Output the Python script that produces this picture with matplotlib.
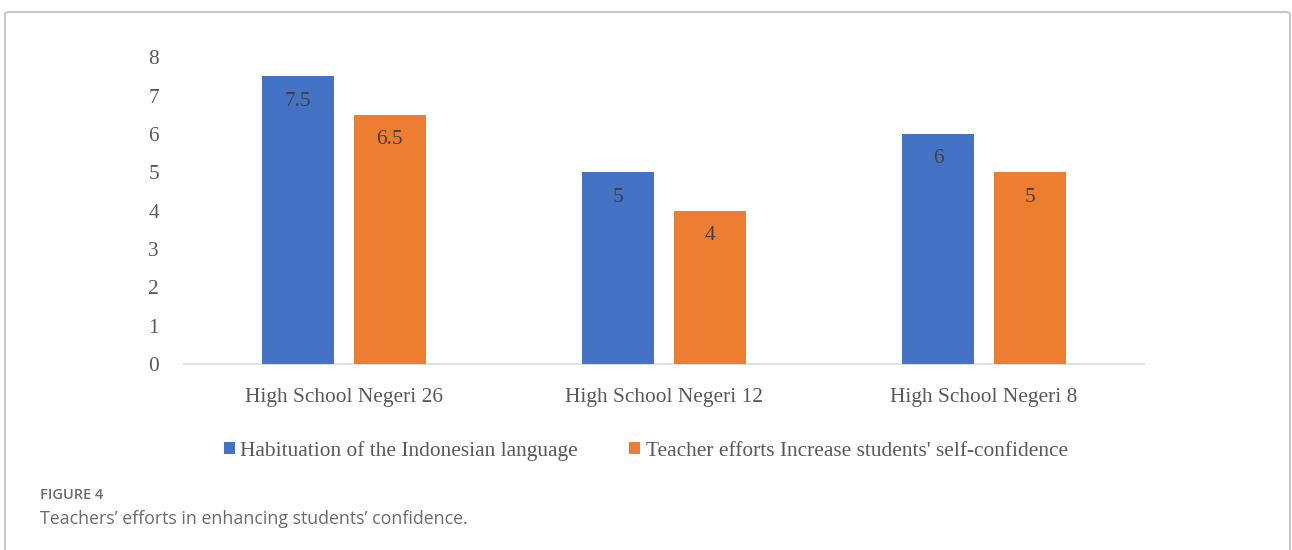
import matplotlib
matplotlib.use("Agg")
import matplotlib.pyplot as plt
import matplotlib.patches as mpatches
import numpy as np

# ---------------------------------------------------------------------------
# Data
# ---------------------------------------------------------------------------
SCHOOLS = ["High School Negeri 26", "High School Negeri 12", "High School Negeri 8"]
HABITUATION = [7.5, 5, 6]
TEACHER_EFFORTS = [6.5, 4, 5]
SERIES_LABELS = ["Habituation of the Indonesian language",
                 "Teacher efforts Increase students' self-confidence"]
Y_TICKS = [0, 1, 2, 3, 4, 5, 6, 7, 8]

# ---------------------------------------------------------------------------
# Style
# ---------------------------------------------------------------------------
BLUE = "#4472C4"
ORANGE = "#ED7D31"
TEXT = "#595959"
SERIF = "Liberation Serif"
FS = 15.4

fig = plt.figure(figsize=(12.92, 5.5), dpi=100)
ax = fig.add_axes([0.1424, 0.338, 0.7430, 0.558])

x = np.arange(len(SCHOOLS))
width = 0.225
offset = 0.143

bars1 = ax.bar(x - offset, HABITUATION, width, color=BLUE, label=SERIES_LABELS[0], zorder=3)
bars2 = ax.bar(x + offset, TEACHER_EFFORTS, width, color=ORANGE, label=SERIES_LABELS[1], zorder=3)

for bars in (bars1, bars2):
    for bar in bars:
        h = bar.get_height()
        ax.annotate(f"{h:g}", (bar.get_x() + bar.get_width() / 2, h),
                    xytext=(0, -25), textcoords="offset pixels",
                    ha="center", va="center", fontsize=FS,
                    family=SERIF, color="#404040", zorder=4)

ax.set_xlim(-0.5, len(SCHOOLS) - 0.5)
ax.set_ylim(0, 8)
ax.set_yticks(Y_TICKS)
ax.set_xticks(x)
ax.set_xticklabels(SCHOOLS)

for lbl in ax.get_xticklabels() + ax.get_yticklabels():
    lbl.set_family(SERIF)
    lbl.set_fontsize(FS)
    lbl.set_color(TEXT)

ax.tick_params(axis="both", length=0)
ax.tick_params(axis="x", pad=17)
ax.tick_params(axis="y", pad=18)
for side in ("top", "right", "left"):
    ax.spines[side].set_visible(False)
ax.spines["bottom"].set_color("#d9d9d9")
ax.spines["bottom"].set_linewidth(1.2)

leg = fig.legend(handles=[bars1, bars2], labels=SERIES_LABELS,
                 loc="center", bbox_to_anchor=(0.5, 1 - 451 / 550),
                 ncol=2, frameon=False, handlelength=0.5, handleheight=0.5,
                 handletextpad=0.25, columnspacing=2.4,
                 prop={"family": SERIF, "size": FS})
for t in leg.get_texts():
    t.set_color(TEXT)

# Caption
fig.text(40 / 1292, 1 - 495 / 550, "FIGURE 4", family="Open Sans",
         fontsize=10.5, fontweight="semibold", color="#6b6b6b", va="center")
fig.text(40 / 1292, 1 - 519 / 550, "Teachers\u2019 efforts in enhancing students\u2019 confidence.",
         family="Open Sans", fontsize=12.8, color="#6b6b6b", va="center")

# Frame round the figure panel
frame = mpatches.FancyBboxPatch((5 / 1292, -0.1), 1285 / 1292, 1.1 - 12 / 550,
                                boxstyle="round,pad=0,rounding_size=0.004",
                                transform=fig.transFigure, fill=False,
                                edgecolor="#c8c8c8", linewidth=1.5, clip_on=False)
fig.patches.append(frame)

fig.savefig("out.png", dpi=100, facecolor="white")
